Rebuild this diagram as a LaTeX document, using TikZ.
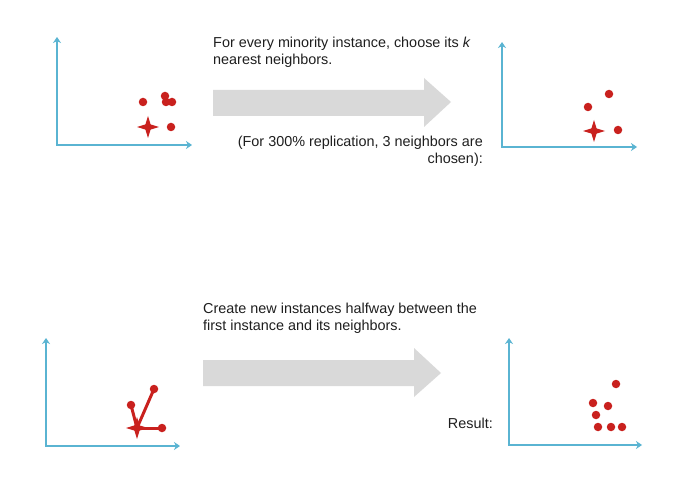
\documentclass[tikz,border=0pt]{standalone}
\usepackage{fontspec}
\setmainfont{Liberation Sans}
\usetikzlibrary{arrows.meta,shapes.geometric}
\definecolor{axisblue}{HTML}{5AB4D2}
\definecolor{dotred}{HTML}{C9211E}
\definecolor{arrowgray}{HTML}{D9D9D9}
\definecolor{textdark}{HTML}{1E1E1E}
\begin{document}
\begin{tikzpicture}[x=1bp,y=-1bp,
  axis/.style={draw=axisblue, line width=2bp,
    {Stealth[length=6bp,width=8bp,inset=2bp]}-{Stealth[length=6bp,width=8bp,inset=2bp]}},
  dot/.style={circle, fill=dotred, inner sep=0, minimum size=8.5bp},
  minstar/.style={star, star points=4, star point ratio=3, fill=dotred, inner sep=0, minimum size=22bp},
  bigarrow/.style={fill=arrowgray},
  txt/.style={inner sep=0, text=textdark, font=\fontsize{14.4bp}{17bp}\selectfont},
  link/.style={draw=dotred, line width=3bp}]
\useasboundingbox (0,0) rectangle (684,488);
% panel 1
\coordinate (y1) at (57,37); \coordinate (x1) at (192,145);
\draw[axis] (y1) |- (x1);
\node[dot] (a1) at (143,102) {};
\node[dot] (a2) at (165,96) {};
\node[dot] (a3) at (166,102) {};
\node[dot] (a4) at (172,102) {};
\node[dot] (a5) at (171,127) {};
\node[minstar] (s1) at (148,127) {};
% panel 2
\coordinate (y2) at (502,42); \coordinate (x2) at (637,147);
\draw[axis] (y2) |- (x2);
\node[dot] (b1) at (609,94) {};
\node[dot] (b2) at (588,107) {};
\node[dot] (b3) at (618,130) {};
\node[minstar] (s2) at (594,131) {};
% panel 3
\coordinate (y3) at (46,338); \coordinate (x3) at (180,446);
\draw[axis] (y3) |- (x3);
\node[minstar] (s3) at (137,428) {};
\node[dot] (c1) at (154,389) {};
\node[dot] (c2) at (131,405) {};
\node[dot] (c3) at (162,428) {};
\draw[link] (s3.center) -- (c1.center);
\draw[link] (s3.center) -- (c2.center);
\draw[link] (s3.center) -- (c3.center);
% panel 4
\coordinate (y4) at (509,338); \coordinate (x4) at (642,445);
\draw[axis] (y4) |- (x4);
\node[dot] (e1) at (616,384) {};
\node[dot] (e2) at (593,403) {};
\node[dot] (e3) at (608,406) {};
\node[dot] (e4) at (596,415) {};
\node[dot] (e5) at (598,427) {};
\node[dot] (e6) at (611,427) {};
\node[dot] (e7) at (622,427) {};
% big arrows
\fill[bigarrow] (213,90) -- (424,90) -- (424,78) -- (451,102) -- (424,127) -- (424,116) -- (213,116) -- cycle;
\fill[bigarrow] (203,360) -- (414,360) -- (414,348) -- (441,373) -- (414,397) -- (414,386) -- (203,386) -- cycle;
% texts
\node[txt, anchor=north west, align=left] (t1) at (213,37)
  {For every minority instance, choose its \textit{k}\\nearest neighbors.};
\node[txt, anchor=north east, align=right] (t2) at (483,136)
  {(For 300\% replication, 3 neighbors are\\chosen):};
\node[txt, anchor=north west, align=left] (t3) at (203,303)
  {Create new instances halfway between the\\first instance and its neighbors.};
\node[txt, anchor=north east] (t4) at (493,418) {Result:};
\end{tikzpicture}
\end{document}
